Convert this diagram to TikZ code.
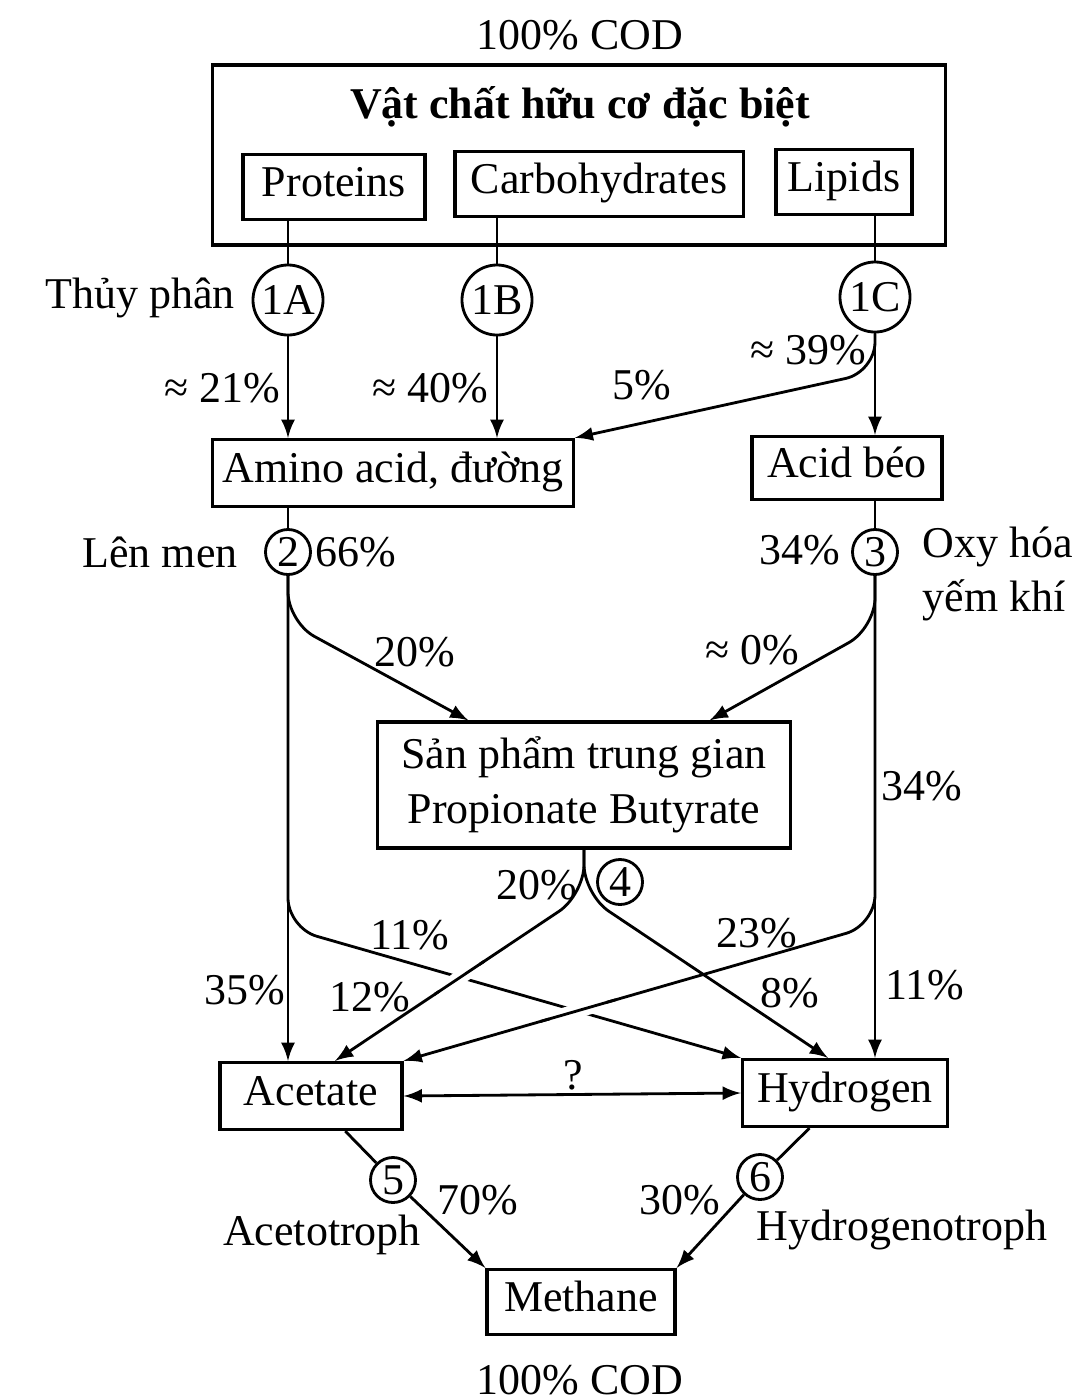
\documentclass[tikz,border=0pt]{standalone}
\usepackage{fontspec}
\setmainfont{Liberation Serif}
\usetikzlibrary{positioning, shapes, arrows, calc}

\begin{document}
\begin{tikzpicture}[x=0.01cm, y=-0.01cm,
    every node/.style={font=\fontsize{12.5}{15.6}\selectfont},
    title/.style={font=\fontsize{12.5}{15.6}\selectfont\bfseries},
    box/.style={draw, line width=0.9pt, inner sep=0pt},
    onebox/.style={box, text height=1.6ex, text depth=0.45ex},
    bigstage/.style={draw, circle, line width=0.8pt, minimum size=0.7cm, inner sep=0pt},
    stage/.style={draw, circle, line width=0.8pt, minimum size=0.45cm, inner sep=0pt},
    flow/.style={line width=0.8pt},
    arr/.style={flow, -latex},
    branch/.style={arr, rounded corners=0.3cm}]
    \useasboundingbox (0,0) rectangle (1077,1399);

    % organic matter
    \node (codtop) at (580,35) {100\% COD};
    \node[box, minimum width=7.32cm, minimum height=1.8cm] (organic) at (579,155) {};
    \node[title] (otitle) at (580,107) {Vật chất hữu cơ đặc biệt};
    \node[onebox, minimum width=1.82cm, minimum height=0.65cm] (prot) at (334,187) {Proteins};
    \node[onebox, minimum width=2.88cm, minimum height=0.65cm] (carb) at (599,184) {Carbohydrates};
    \node[onebox, minimum width=1.36cm, minimum height=0.65cm] (lip) at (844,182) {Lipids};

    % hydrolysis
    \node[bigstage] (s1a) at (288,300) {1A};
    \node[bigstage] (s1b) at (497,300) {1B};
    \node[bigstage] (s1c) at (875,297) {1C};
    \node (thuy) at (140,298) {Thủy phân};
    \node (p21) at (222,388) {≈ 21\%};
    \node (p40) at (430,388) {≈ 40\%};
    \node (p5) at (642,385) {5\%};
    \node (p39) at (808,350) {≈ 39\%};

    \node[onebox, minimum width=3.6cm, minimum height=0.67cm] (amino) at (393,473) {Amino acid, đường};
    \node[onebox, minimum width=1.9cm, minimum height=0.63cm] (fatty) at (847,468) {Acid béo};

    % fermentation / oxidation
    \node[stage] (s2) at (288,552) {2};
    \node[stage] (s3) at (875,552) {3};
    \node (lenmen) at (160,552) {Lên men};
    \node (p66) at (356,552) {66\%};
    \node (p34a) at (800,550) {34\%};
    \node[anchor=west, align=left, inner sep=0pt] (oxy) at (922,574) {Oxy hóa\\yếm khí};
    \node (p20a) at (415,652) {20\%};
    \node (p0) at (752,650) {≈ 0\%};
    \node (p34b) at (922,786) {34\%};

    \node[box, align=center, minimum width=4.12cm, minimum height=1.26cm] (sp) at (584,785)
      {Sản phẩm trung gian\\Propionate Butyrate};
    \node[stage] (s4) at (620,882) {4};
    \node (p20b) at (537,885) {20\%};
    \node (p11a) at (410,935) {11\%};
    \node (p23) at (757,933) {23\%};
    \node (p35) at (245,990) {35\%};
    \node (p12) at (370,997) {12\%};
    \node (p8) at (790,993) {8\%};
    \node (p11b) at (925,985) {11\%};

    % acetate, hydrogen, methane
    \node[onebox, minimum width=1.82cm, minimum height=0.67cm] (acetate) at (311,1096) {Acetate};
    \node[onebox, minimum width=2.05cm, minimum height=0.67cm] (hyd) at (845,1093) {Hydrogen};
    \node (ques) at (573,1075) {?};
    \node[stage] (s5) at (393,1180) {5};
    \node[stage] (s6) at (760,1177) {6};
    \node (p70) at (478,1200) {70\%};
    \node (p30) at (680,1200) {30\%};
    \node (acetro) at (322,1235) {Acetotroph};
    \node (hydtro) at (902,1230) {Hydrogenotroph};
    \node[onebox, minimum width=1.88cm, minimum height=0.65cm] (methane) at (581,1302) {Methane};
    \node (codbot) at (580,1380) {100\% COD};

    % bends and ends
    \coordinate (k1c) at (875,372);
    \coordinate (k2) at (288,622);
    \coordinate (k3) at (875,628);
    \coordinate (k2b) at (288,928);
    \coordinate (k3b) at (875,925);
    \coordinate (k4) at ($(sp.south)+(0,45)$);
    \coordinate (e2) at ([xshift=0.92cm]sp.north west);
    \coordinate (e3) at ([xshift=-0.82cm]sp.north east);
    \coordinate (e4l) at ([xshift=0.24cm]acetate.north);
    \coordinate (e4r) at ([xshift=-0.17cm]hyd.north);

    \draw[flow] (s1a |- prot.south) -- (s1a);
    \draw[flow] (s1b |- carb.south) -- (s1b);
    \draw[flow] (s1c |- lip.south) -- (s1c);
    \draw[arr] (s1a) -- (s1a |- amino.north);
    \draw[arr] (s1b) -- (s1b |- amino.north);
    \draw[arr] (s1c) -- (s1c |- fatty.north);
    \draw[branch] (s1c) -- (k1c) -- (amino.north east);

    \draw[flow] (s2 |- amino.south) -- (s2);
    \draw[flow] (s3 |- fatty.south) -- (s3);
    \draw[arr] (s2) -- (s2 |- acetate.north);
    \draw[arr] (s3) -- (s3 |- hyd.north);
    \draw[branch] (s2) -- (k2) -- (e2);
    \draw[branch] (s3) -- (k3) -- (e3);

    \draw[branch] (s2) -- (k2b) -- (hyd.north west);
    \draw[branch] (sp.south) -- (k4) -- (e4l);
    \draw[branch] (sp.south) -- (k4) -- (e4r);
    \draw[branch] (s3) -- (k3b) -- (acetate.north east);
    % gaps where the 11% line passes under
    \draw[white, line width=4pt] ($(k4)!0.42!(e4l)$) -- ($(k4)!0.58!(e4l)$);
    \draw[flow] ($(k4)!0.4!(e4l)$) -- ($(k4)!0.6!(e4l)$);
    \draw[white, line width=4pt] ($(k3b)!0.57!(acetate.north east)$) -- ($(k3b)!0.69!(acetate.north east)$);
    \draw[flow] ($(k3b)!0.55!(acetate.north east)$) -- ($(k3b)!0.71!(acetate.north east)$);

    \draw[flow, latex-latex] (acetate.east) -- (hyd.west);
    \draw[flow] (acetate) -- (s5);
    \draw[arr] (s5) -- (methane.north west);
    \draw[flow] (hyd) -- (s6);
    \draw[arr] (s6) -- (methane.north east);
\end{tikzpicture}
\end{document}
